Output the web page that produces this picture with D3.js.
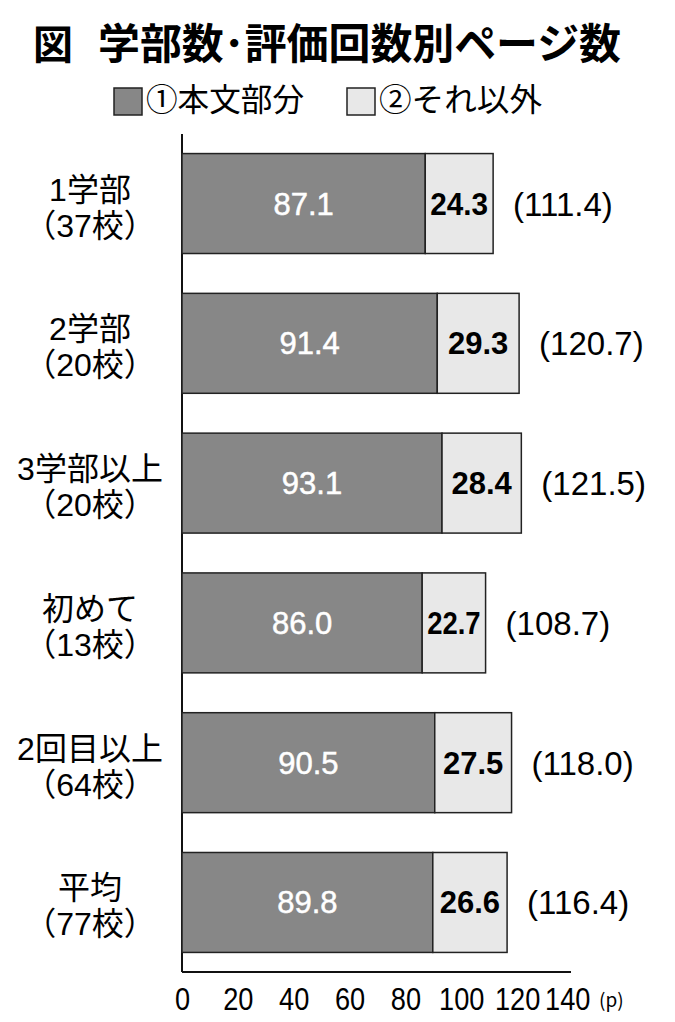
<!DOCTYPE html>
<html><head><meta charset="utf-8">
<script src="https://cdn.jsdelivr.net/npm/d3@7"></script>
<style>
body{margin:0;background:#fff;}
svg{display:block;font-family:"Liberation Sans","Noto Sans CJK JP",sans-serif;}
</style></head><body>
<svg id="c" width="675" height="1022"></svg>
<script>
const categoriesLine1 = ["1学部","2学部","3学部以上","初めて","2回目以上","平均"];
const categoriesLine2 = ["（37校）","（20校）","（20校）","（13校）","（64校）","（77校）"];
const mainText = [87.1, 91.4, 93.1, 86.0, 90.5, 89.8];
const otherParts = [24.3, 29.3, 28.4, 22.7, 27.5, 26.6];
const totals = [111.4, 120.7, 121.5, 108.7, 118.0, 116.4];
const xTicks = [0,20,40,60,80,100,120,140];
const seriesNames = ["①本文部分","②それ以外"];
const titleMark = "図";
const titleText = "学部数･評価回数別ページ数";

const colors = ["#878787","#e8e8e8"];
const svg = d3.select("#c");
const x = d3.scaleLinear().domain([0,140]).range([182,573]);
const y = d3.scaleBand().domain(categoriesLine1.map((d,i)=>i)).range([134,972]).paddingInner(0.285).paddingOuter(0.14);

const cjk = "'Noto Sans CJK JP',sans-serif";
svg.append("text").attr("x",33).attr("y",59).attr("font-size",40).attr("font-weight","bold")
  .attr("font-family",cjk).text(titleMark);
svg.append("text").attr("x",98).attr("y",59).attr("font-size",42).attr("font-weight","bold")
  .attr("font-family",cjk).attr("textLength",523).attr("lengthAdjust","spacingAndGlyphs").text(titleText);

// legend
const lg = svg.append("g");
const lx = [114, 347];
seriesNames.forEach((n,i)=>{
  lg.append("rect").attr("x",lx[i]).attr("y",88).attr("width",28).attr("height",27).attr("fill",colors[i]).attr("stroke","#222").attr("stroke-width",1.5);
  lg.append("text").attr("x",lx[i]+32).attr("y",111).attr("font-size",32).attr("font-family",cjk)
    .attr("textLength", i===0?158:163).attr("lengthAdjust","spacingAndGlyphs").text(n);
});

// axis
svg.append("line").attr("x1",182).attr("x2",182).attr("y1",134).attr("y2",972).attr("stroke","#111").attr("stroke-width",2);
const ax = svg.append("g").attr("transform","translate(0,972)")
  .call(d3.axisBottom(x).tickValues(xTicks).tickSize(0).tickPadding(15));
ax.select(".domain").attr("stroke","#111").attr("stroke-width",2).attr("d",`M182,0H571`);
ax.selectAll("text").attr("font-size",32).attr("fill","#000").attr("font-family","'Liberation Sans',sans-serif")
  .attr("dx", d => d===140 ? "-0.18em" : null)
  .each(function(){ const w=this.getComputedTextLength(); d3.select(this).attr("textLength",w*0.85).attr("lengthAdjust","spacingAndGlyphs"); });
svg.append("text").attr("x",599).attr("y",1007).attr("font-size",19).attr("font-family",cjk).text("(p)");

const rows = svg.append("g").selectAll("g").data(mainText).join("g");
rows.each(function(v,i){
  const g = d3.select(this);
  const y0 = y(i), h = y.bandwidth(), cy = y0 + h/2;
  g.append("rect").attr("x",x(0)).attr("y",y0).attr("width",x(v)-x(0)).attr("height",h)
    .attr("fill",colors[0]).attr("stroke","#222").attr("stroke-width",1.5);
  g.append("rect").attr("x",x(v)).attr("y",y0).attr("width",x(v+otherParts[i])-x(v)).attr("height",h)
    .attr("fill",colors[1]).attr("stroke","#222").attr("stroke-width",1.5);
  g.append("text").attr("x",(x(0)+x(v))/2).attr("y",cy+11).attr("text-anchor","middle")
    .attr("font-size",31).attr("fill","#fff").attr("stroke","#fff").attr("stroke-width",0.5).text(v.toFixed(1));
  const segW = x(v+otherParts[i]) - x(v);
  const t = g.append("text").attr("x",(x(v)+x(v+otherParts[i]))/2).attr("y",cy+11).attr("text-anchor","middle")
    .attr("font-size",31).attr("font-weight","bold").attr("fill","#000").text(otherParts[i].toFixed(1));
  const w = t.node().getComputedTextLength();
  if (w > segW - 10) t.attr("textLength", segW - 10).attr("lengthAdjust","spacingAndGlyphs");
  g.append("text").attr("x",x(totals[i])+20).attr("y",cy+12).attr("font-size",33)
    .text("("+totals[i].toFixed(1)+")");
  g.append("text").attr("x",90).attr("y",cy-3).attr("text-anchor","middle").attr("font-size",32).text(categoriesLine1[i]);
  g.append("text").attr("x",90).attr("y",cy+33).attr("text-anchor","middle").attr("font-size",32).text(categoriesLine2[i]);
});
</script>
</body></html>
